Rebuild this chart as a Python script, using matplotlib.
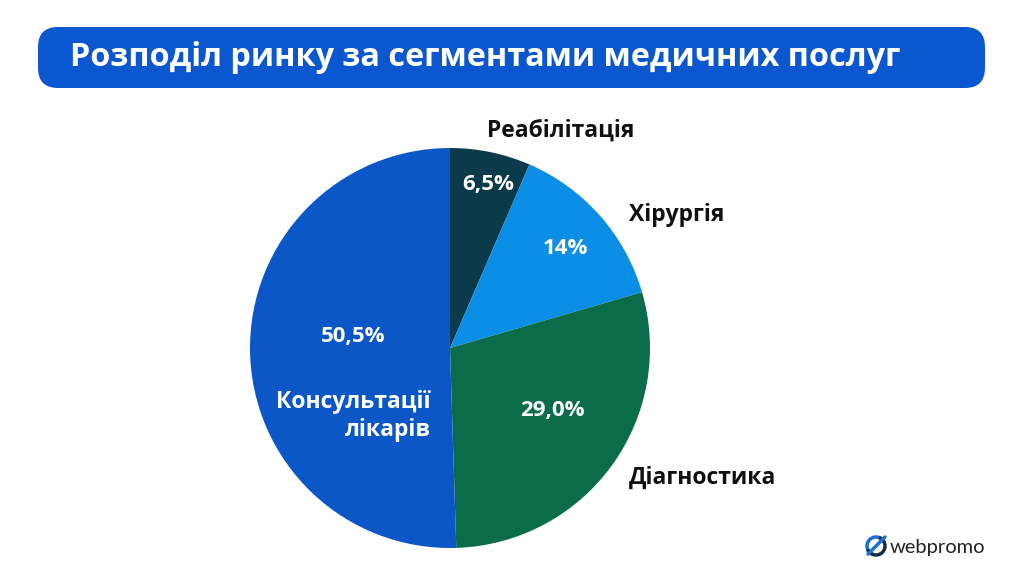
import matplotlib
matplotlib.use("Agg")
import matplotlib.pyplot as plt
import numpy as np
from matplotlib.patches import FancyBboxPatch, Arc

# data
segments = ["Реабілітація", "Хірургія", "Діагностика", "Консультації\nлікарів"]
shares = [6.5, 14, 29.0, 50.5]
share_labels = ["6,5%", "14%", "29,0%", "50,5%"]
colors = ["#0b3a4a", "#0b8fe6", "#0b6c4a", "#0b57c8"]
title = "Розподіл ринку за сегментами медичних послуг"

plt.rcParams["font.family"] = ["Open Sans", "DejaVu Sans"]

W, H = 1024, 576
fig = plt.figure(figsize=(W / 100, H / 100), dpi=100)
ax = fig.add_axes([0, 0, 1, 1])

# title bar
bar = FancyBboxPatch((38 + 20, 488 + 20), 947 - 40, 61 - 40,
                     boxstyle="round,pad=20", fc="#0b57d0", ec="none")
ax.add_patch(bar)
ax.text(70, 519, title, color="white", fontsize=23.3, fontweight="bold",
        va="center", ha="left")

# pie
cx, cy, R = 450, 228, 200
wedges, _ = ax.pie(shares, colors=colors, startangle=90, counterclock=False,
                   center=(cx, cy), radius=R, frame=True,
                   wedgeprops=dict(linewidth=0))
ax.set_xlim(0, W)
ax.set_ylim(0, H)
ax.set_aspect("equal")
ax.axis("off")

# label placement relative to wedge mid-angles
pct_r = [0.84, 0.76, 0.60, 0.49]
pct_da = [-1.4, -0.7, 4.7, -7.9]
out_r = [1.22, 1.315, 1.42, None]
out_da = [-15.4, -11, 8.8, 0]
for i, w in enumerate(wedges):
    mid = np.deg2rad((w.theta1 + w.theta2) / 2 + pct_da[i])
    x = cx + pct_r[i] * R * np.cos(mid)
    y = cy + pct_r[i] * R * np.sin(mid)
    ax.text(x, y, share_labels[i], color="white", fontsize=16,
            fontweight="bold", ha="center", va="center")
    if out_r[i] is not None:
        mid = np.deg2rad((w.theta1 + w.theta2) / 2 + out_da[i])
        x = cx + out_r[i] * R * np.cos(mid)
        y = cy + out_r[i] * R * np.sin(mid)
        ax.text(x, y, segments[i], color="#111111", fontsize=16.5,
                fontweight="bold", ha="center", va="center")
    else:
        ax.text(431, 160, segments[i], color="white", fontsize=16.5,
                fontweight="bold", ha="right", va="center",
                multialignment="right", linespacing=1.2)

# logo
ax.add_patch(Arc((876, 30), 18, 18, theta1=20, theta2=250, lw=2.5, color="#1a6fd8"))
ax.add_patch(Arc((876, 30), 18, 18, theta1=200, theta2=430, lw=2.5, color="#1a2a44"))
ax.plot([868, 885], [22, 39], color="#1a6fd8", lw=2.5, solid_capstyle="round")
ax.text(890, 29, "webpromo", color="#222222", fontsize=14.5, ha="left",
        va="center", family=["Lato", "DejaVu Sans"])

fig.savefig("out.png", dpi=100, facecolor="white")
